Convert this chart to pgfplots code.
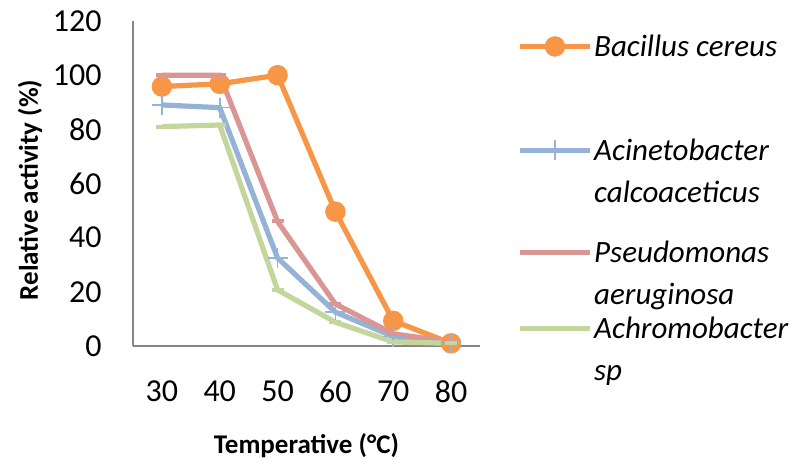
\documentclass[border=0pt]{standalone}
\usepackage{pgfplots}
\pgfplotsset{compat=1.18}
\usepackage{fontspec}
\setmainfont{Carlito}
\definecolor{cOrange}{HTML}{F79646}
\definecolor{cBlue}{HTML}{95B3D7}
\definecolor{cPink}{HTML}{D99694}
\definecolor{cGreen}{HTML}{C3D69B}
\definecolor{cAxis}{HTML}{868686}
\newcommand{\legtext}[2]{\rule[-#1]{0pt}{#1}\rule{0pt}{#1}\raisebox{-5.2pt}{\smash{\parbox[t]{100pt}{#2}}}}
\begin{document}
\begin{tikzpicture}
\path[use as bounding box] (-66.5pt,-60pt) rectangle (332.5pt,173pt);
\begin{axis}[
  width=173.5pt, height=162.5pt, scale only axis,
  xmin=25, xmax=85, ymin=0, ymax=120,
  xtick={30,40,50,60,70,80}, ytick={0,20,40,60,80,100,120},
  axis x line*=bottom, axis y line*=left,
  axis line style={cAxis, line width=0.8pt, -},
  major tick length=0pt,
  /pgf/number format/assume math mode=true,
  tick label style={font=\fontsize{16}{19}\selectfont, inner sep=0pt},
  yticklabel style={xshift=-15.5pt},
  xticklabel style={yshift=-17pt},
  xlabel={\textbf{Temperative (°C)}},
  ylabel={\textbf{Relative activity (\%)}},
  label style={font=\fontsize{13.5}{16}\selectfont},
  xlabel style={at={([yshift=-50pt]axis description cs:0.5,0)}, anchor=center},
  ylabel style={at={([xshift=-51.5pt]axis description cs:0,0.48)}, anchor=center},
  legend image code/.code={\draw[#1, mark repeat=2, mark phase=2] plot coordinates {(0pt,0pt) (17.5pt,0pt) (35pt,0pt)};},
  legend style={draw=none, fill=none, inner sep=0pt, at={(rel axis cs:1.1066,1.086)}, anchor=north west,
    font=\fontsize{15.5}{20.8}\selectfont\itshape, row sep=0pt,
    nodes={inner xsep=0.8pt, inner ysep=0pt, text depth=}},
  legend cell align=left,
  every axis plot/.append style={line width=2.6pt},
]
\addplot[cOrange, mark=*, mark size=3.8pt, mark options={solid}] coordinates {(30,95.8) (40,96.8) (50,100) (60,49.6) (70,9.3) (80,1)};
\addlegendentry{\legtext{26.5pt}{Bacillus cereus}}
\addplot[cBlue, mark=+, mark size=5pt, mark options={line width=0.8pt}] coordinates {(30,89) (40,88) (50,32.5) (60,12.5) (70,3.5) (80,1)};
\addlegendentry{\legtext{25.5pt}{Acinetobacter\\calcoaceticus}}
\addplot[cPink, mark=-, mark size=3pt, mark options={line width=2pt}] coordinates {(30,100) (40,100) (50,46) (60,15.5) (70,4.5) (80,1.5)};
\addlegendentry{\legtext{25.5pt}{Pseudomonas\\aeruginosa}}
\addplot[cGreen, mark=-, mark size=3pt, mark options={line width=2pt}] coordinates {(30,81) (40,81.6) (50,20.7) (60,8.8) (70,1.5) (80,1)};
\addlegendentry{\legtext{12.5pt}{Achromobacter\\sp}}
\end{axis}
\end{tikzpicture}
\end{document}
